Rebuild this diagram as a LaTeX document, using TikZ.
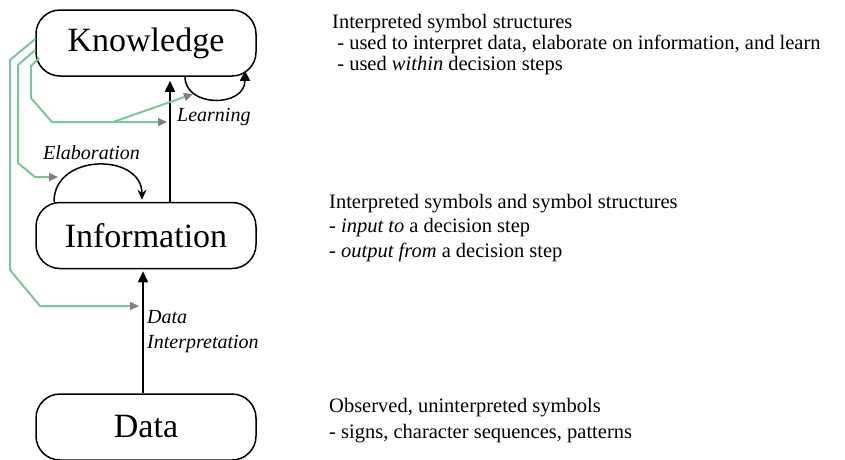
\documentclass[tikz,border=0pt]{standalone}
\usepackage{fontspec}
\setmainfont{Liberation Serif}
\usetikzlibrary{arrows.meta,positioning}
\definecolor{feedgreen}{RGB}{122,200,152}

\begin{document}
\begin{tikzpicture}[x=1pt,y=-1pt,
                    every node/.style={inner sep=0pt},
                    level/.style={draw,rounded corners=24pt,minimum width=220pt,minimum height=66pt,
                                  line width=1.5pt,font=\fontsize{34}{40}\selectfont},
                    note/.style={anchor=base west,align=left,font=\fontsize{20.5}{#1}\selectfont},
                    note/.default=21,
                    act/.style={anchor=base west,align=left,font=\fontsize{20}{25}\selectfont\itshape},
                    flow/.style={line width=1.5pt,-{Triangle[length=11pt,width=10pt]}},
                    feed/.style={feedgreen,line width=2pt,-{Triangle[color=gray,length=9pt,width=8pt]}},
                    node distance=125pt]

\useasboundingbox (0,0) rectangle (845,459);

% the three levels
\node[level] (know) at (146,43) {Knowledge};
\node[level,below=of know] (info) {Information};
\node[level,below=124pt of info] (data) {Data};

% descriptions (placed by their last line)
\node[note] (knownote) at (332,70) {Interpreted symbol structures\\
\ - used to interpret data, elaborate on information, and learn\\
\ - used \textit{within} decision steps};
\node[note=24.5] (infonote) at (329,257) {Interpreted symbols and symbol structures\\
- \textit{input to} a decision step\\
- \textit{output from} a decision step};
\node[note=26] (datanote) at (329,438) {Observed, uninterpreted symbols\\
- signs, character sequences, patterns};

% transitions
\draw[flow,shorten >=2pt] ([xshift=-3pt]data.north) -- ([xshift=-3pt]info.south);
\draw[flow,shorten >=4pt] ([xshift=24pt]info.north) -- ([xshift=24pt]know.south);
\draw[line width=1.5pt,-{Triangle[length=10pt,width=10pt]}] ([xshift=39pt]know.south)
    .. controls +(0,31) and +(0,37) .. ([xshift=99pt,yshift=6pt]know.south);
\draw[line width=1.5pt,-{Stealth[fill=green,length=10pt,width=9pt]}] ([xshift=-92pt]info.north)
    .. controls +(0,-49) and +(0,-47) .. ([xshift=-4pt,yshift=2pt]info.north);

\node[act] (interplabel) at (147,348) {Data\\Interpretation};
\node[act] (elablabel) at (43,159) {Elaboration};
\node[act] (learnlabel) at (177,121) {Learning};

% knowledge used within the steps
\coordinate (interp) at (139,306);
\coordinate (elabin) at (58,177);
\coordinate (upmid) at (167,122);
\coordinate (fork) at (113,122);
\coordinate (learnin) at (193,94);

\draw[feed] ([yshift=4pt]know.west) -- (10,60) -- (10,270) -- (40,306) -- (interp);
\draw[feed] ([yshift=-7pt]know.west) -- (18,65) -- (18,163) -- (35,177) -- (elabin);
\draw[feed] ([xshift=4pt,yshift=-15pt]know.west) -- (31,66) -- (31,98) -- (52,122) -- (upmid);
\draw[feed] (fork) -- (learnin);

\end{tikzpicture}
\end{document}
